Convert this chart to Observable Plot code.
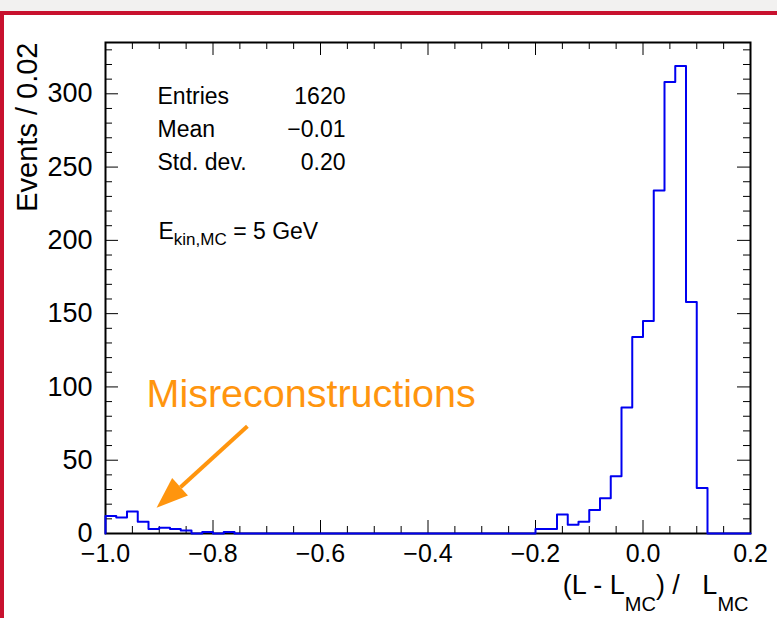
<!DOCTYPE html>
<html>
<head>
<meta charset="utf-8">
<script src="https://cdn.jsdelivr.net/npm/d3@7"></script>
<script src="https://cdn.jsdelivr.net/npm/@observablehq/plot@0.6"></script>
<style>
  html, body { margin: 0; padding: 0; }
  body { width: 777px; height: 618px; overflow: hidden; background: #f2f1f0; position: relative; }
  #sheet { position: absolute; left: 0; top: 11px; width: 820px; height: 660px; background: #fff;
           border-top: 4px solid #c8112e; border-left: 4px solid #c8112e; }
  #chart { position: absolute; left: 0; top: 0; }
</style>
</head>
<body>
<div id="sheet"></div>
<div id="chart"></div>
<script>
// Relative length residual (L - L_MC) / L_MC, 60 bins of width 0.02 from -1.0 to 0.2
const binLow = -1.0;
const binWidth = 0.02;
const counts = [
  12, 11, 15, 8, 3, 4, 3, 2, 0, 1,        // -1.00 .. -0.82
  0, 1, 0, 0, 0, 0, 0, 0, 0, 0,           // -0.80 .. -0.62
  0, 0, 0, 0, 0, 0, 0, 0, 0, 0,           // -0.60 .. -0.42
  0, 0, 0, 0, 0, 0, 0, 0, 0, 0,           // -0.40 .. -0.22
  3, 3, 13, 6, 8, 16, 24, 39, 86, 134,    // -0.20 .. -0.02
  145, 234, 308, 319, 158, 31, 0, 0, 0, 0 //  0.00 ..  0.18
];

// Axis ticks
const xMajor = [-1.0, -0.8, -0.6, -0.4, -0.2, 0.0, 0.2];
const xMinor = [-0.95, -0.9, -0.85, -0.75, -0.7, -0.65, -0.55, -0.5, -0.45,
                -0.35, -0.3, -0.25, -0.15, -0.1, -0.05, 0.05, 0.1, 0.15];
const yMajor = [0, 50, 100, 150, 200, 250, 300];
const yMinor = [10, 20, 30, 40, 60, 70, 80, 90, 110, 120, 130, 140, 160, 170, 180, 190,
                210, 220, 230, 240, 260, 270, 280, 290, 310, 320, 330];

// Texts
const yTitle = "Events / 0.02";
const xTitleParts = [["(L - L", false], ["MC", true], [") /   L", false], ["MC", true]];
const statLabels = ["Entries", "Mean", "Std. dev."];
const statValues = ["1620", "\u22120.01", "0.20"];
const energyParts = [["E", false], ["kin,MC", true], [" = 5 GeV", false]];
const noteText = "Misreconstructions";

// Annotation arrow (data units): tail, end of shaft, tip
const arrowTail = {x: -0.736, y: 73.2};
const arrowTip = {x: -0.905, y: 17.5};
const arrowNeck = {x: -0.8605, y: 31.6};

const W = 777, H = 618;
const mL = 105, mR = 27, mT = 42, mB = 85;
const frameW = W - mL - mR, frameH = H - mT - mB;
const orange = "#ff950e";
const blue = "#0000f0";
const font = "'Liberation Sans', Arial, Helvetica, sans-serif";

// Step outline built from bin edges
const steps = [{x: binLow, y: 0}];
counts.forEach((c, i) => steps.push({x: binLow + i * binWidth, y: c}));
steps.push({x: binLow + counts.length * binWidth, y: counts[counts.length - 1]});

const headShape = {
  draw(context, l) {
    const w = 11.8;
    context.moveTo(0, -l);
    context.lineTo(-w, 0);
    context.lineTo(w, 0);
    context.closePath();
  }
};

const majorLen = 13, minorLen = 7;
const xTitle = xTitleParts.map(p => p[0]).join("");
const energyLabel = energyParts.map(p => p[0]).join("");

const plot = Plot.plot({
  width: W,
  height: H,
  marginLeft: mL, marginRight: mR, marginTop: mT, marginBottom: mB,
  style: {background: "transparent", fontFamily: font, fontSize: "25px", color: "#000", overflow: "visible"},
  x: {domain: [-1.0, 0.2]},
  y: {domain: [0, 335]},
  marks: [
    Plot.frame({stroke: "#000", strokeWidth: 2}),
    // inward ticks on all four sides
    Plot.tickX(xMajor, {x: d => d, insetTop: frameH - majorLen, stroke: "#000"}),
    Plot.tickX(xMajor, {x: d => d, insetBottom: frameH - majorLen, stroke: "#000"}),
    Plot.tickX(xMinor, {x: d => d, insetTop: frameH - minorLen, stroke: "#000"}),
    Plot.tickX(xMinor, {x: d => d, insetBottom: frameH - minorLen, stroke: "#000"}),
    Plot.tickY(yMajor, {y: d => d, insetRight: frameW - majorLen, stroke: "#000"}),
    Plot.tickY(yMajor, {y: d => d, insetLeft: frameW - majorLen, stroke: "#000"}),
    Plot.tickY(yMinor, {y: d => d, insetRight: frameW - minorLen, stroke: "#000"}),
    Plot.tickY(yMinor, {y: d => d, insetLeft: frameW - minorLen, stroke: "#000"}),
    Plot.axisX({ticks: xMajor, tickSize: 0, tickPadding: 11, tickFormat: d3.format(".1f"), label: null, fontSize: 25}),
    Plot.axisY({ticks: yMajor, tickSize: 0, tickPadding: 13, tickFormat: d => String(d), label: null, fontSize: 27}),
    // histogram outline
    Plot.line(steps, {x: "x", y: "y", curve: "step-after", stroke: blue, strokeWidth: 2}),
    // axis titles
    Plot.text([yTitle], {frameAnchor: "top-left", text: d => d, rotate: -90, textAnchor: "end",
      lineAnchor: "bottom", dx: -69, dy: 0, fontSize: 29, fill: "#000"}),
    Plot.text([xTitle], {frameAnchor: "bottom-right", text: d => d,
      textAnchor: "end", lineAnchor: "bottom", dx: -2, dy: 60, fontSize: 27, fill: "#000"}),
    // statistics box
    Plot.text([statLabels.join("\n")], {frameAnchor: "top-left", text: d => d, textAnchor: "start",
      lineAnchor: "top", dx: 52, dy: 38.7, lineHeight: 1.426, fontSize: 23, fill: "#000"}),
    Plot.text([statValues.join("\n")], {frameAnchor: "top-left", text: d => d, textAnchor: "end",
      lineAnchor: "top", dx: 240, dy: 38.7, lineHeight: 1.426, fontSize: 23, fill: "#000"}),
    Plot.text([energyLabel], {frameAnchor: "top-left", text: d => d, textAnchor: "start",
      lineAnchor: "bottom", dx: 53, dy: 196.3, fontSize: 23, fill: "#000"}),
    // annotation
    Plot.text([noteText], {frameAnchor: "top-left", text: d => d, textAnchor: "start",
      lineAnchor: "bottom", dx: 41, dy: 364, fontSize: 39.5, fill: orange}),
    Plot.link([0], {x1: () => arrowTail.x, y1: () => arrowTail.y, x2: () => arrowNeck.x, y2: () => arrowNeck.y,
      stroke: orange, strokeWidth: 4}),
    Plot.vector([0], {x: () => arrowTip.x, y: () => arrowTip.y, anchor: "end", length: 31.6, rotate: 228,
      shape: headShape, fill: orange, stroke: "none"})
  ]
});

// Subscripts: rebuild the composed labels as tspans
function subscript(full, parts, size, subSize, drop) {
  d3.select(plot).selectAll("text")
    .filter(function () { return this.textContent === full; })
    .each(function () {
      const t = d3.select(this);
      t.text(null).style("white-space", "pre");
      let down = false;
      for (const [s, sub] of parts) {
        const ts = t.append("tspan").text(s).attr("font-size", sub ? subSize : size);
        if (sub !== down) ts.attr("dy", sub ? drop : -drop);
        down = sub;
      }
    });
}
subscript(xTitle, xTitleParts, 27, 20, 17);
subscript(energyLabel, energyParts, 23, 17, 6.5);

document.getElementById("chart").appendChild(plot);
</script>
</body>
</html>
